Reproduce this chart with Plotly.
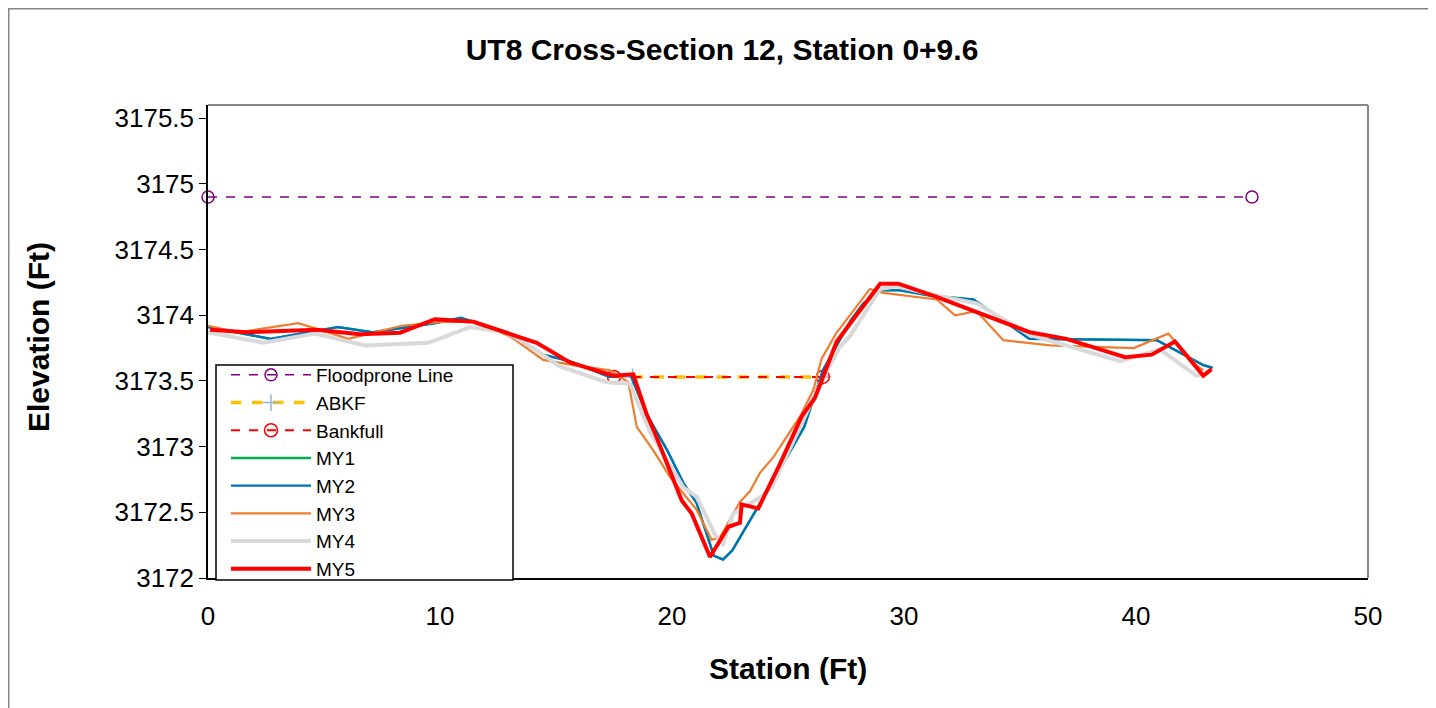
import plotly.graph_objects as go

# Reference lines
flood_x = [0, 45]
flood_y = [3174.9, 3174.9]
abkf_x = [18.3, 26.5]
abkf_y = [3173.53, 3173.53]
bank_x = [17.5, 26.5]
bank_y = [3173.53, 3173.53]

# Monitoring years
my2_x = [0.0, 2.7, 5.6, 7.1, 9.8, 10.9, 12.9, 14.45, 15.6, 17.3, 18.2, 18.9, 19.8, 20.5, 21.06,
         21.8, 22.2, 22.6, 24.2, 25.7, 26.5, 27.7, 28.25, 29.0, 29.8, 31.1, 33.0, 35.4, 40.9, 42.9, 43.3]
my2_y = [3173.91, 3173.82, 3173.91, 3173.87, 3173.94, 3173.98, 3173.87, 3173.70, 3173.65, 3173.53, 3173.55,
         3173.25, 3172.97, 3172.72, 3172.57, 3172.17, 3172.14, 3172.21, 3172.69, 3173.15, 3173.58,
         3173.96, 3174.09, 3174.19, 3174.19, 3174.15, 3174.12, 3173.82, 3173.81, 3173.62, 3173.60]

# MY1 is not visible in the picture: it lies underneath MY2
my1_x = list(my2_x)
my1_y = list(my2_y)

my3_x = [0.0, 1.3, 3.9, 6.05, 8.35, 10.07, 11.44, 13.02, 14.45, 15.75, 17.33, 18.12, 18.48, 19.2, 19.91,
         21.06, 21.71, 22.07, 22.93, 23.36, 23.79, 24.37, 25.52, 26.09, 26.45, 27.1, 27.24, 28.53, 29.11,
         31.41, 32.2, 33.13, 34.28, 36.3, 39.9, 41.39, 42.6, 42.9]
my3_y = [3173.92, 3173.87, 3173.94, 3173.82, 3173.92, 3173.95, 3173.95, 3173.84, 3173.66, 3173.62, 3173.58,
         3173.49, 3173.15, 3172.97, 3172.77, 3172.52, 3172.29, 3172.31, 3172.58, 3172.66, 3172.80, 3172.92,
         3173.23, 3173.43, 3173.67, 3173.87, 3173.90, 3174.20, 3174.17, 3174.12, 3174.00, 3174.03, 3173.81,
         3173.77, 3173.75, 3173.86, 3173.62, 3173.58]

my4_x = [0.0, 2.38, 4.61, 6.77, 9.5, 11.29, 12.87, 14.02, 15.17, 17.18, 18.19, 19.05, 19.34, 20.49, 21.06,
         21.85, 22.2, 22.64, 23.86, 24.3, 25.52, 26.38, 27.24, 27.67, 28.97, 29.68, 31.41, 33.13, 35.43,
         39.31, 41.03, 42.6, 42.9]
my4_y = [3173.87, 3173.79, 3173.86, 3173.77, 3173.79, 3173.91, 3173.87, 3173.75, 3173.61, 3173.49, 3173.48,
         3173.11, 3173.03, 3172.69, 3172.62, 3172.33, 3172.26, 3172.49, 3172.62, 3172.69, 3173.15, 3173.48,
         3173.76, 3173.84, 3174.20, 3174.22, 3174.15, 3174.09, 3173.85, 3173.65, 3173.74, 3173.54, 3173.55]

my5_x = [0.09, 1.67, 4.68, 6.55, 8.28, 9.78, 11.44, 12.87, 14.17, 15.6, 17.47, 18.33, 18.9, 19.27, 19.77,
         20.42, 20.85, 21.64, 22.43, 22.93, 23.0, 23.72, 24.66, 25.59, 26.16, 26.6, 27.1, 28.97, 29.76,
         31.4, 33.4, 35.43, 37.0, 39.53, 40.68, 41.68, 42.9, 43.26]
my5_y = [3173.89, 3173.87, 3173.89, 3173.855, 3173.867, 3173.97, 3173.95, 3173.87, 3173.79, 3173.64, 3173.54,
         3173.55, 3173.25, 3173.10, 3172.87, 3172.59, 3172.49, 3172.16, 3172.39, 3172.42, 3172.56, 3172.53,
         3172.87, 3173.23, 3173.37, 3173.58, 3173.80, 3174.24, 3174.24, 3174.14, 3174.01, 3173.87, 3173.82,
         3173.68, 3173.70, 3173.80, 3173.54, 3173.59]

x_ticks = [0, 10, 20, 30, 40, 50]
y_ticks = [3172, 3172.5, 3173, 3173.5, 3174, 3174.5, 3175, 3175.5]

FONT = "Liberation Sans, Arial, sans-serif"

fig = go.Figure()
fig.add_trace(go.Scatter(x=flood_x, y=flood_y, name="Floodprone Line", mode="lines+markers",
                         cliponaxis=False,
                         line=dict(color="#800080", width=1.5, dash="dash"),
                         marker=dict(symbol="circle-open", size=12, color="#800080", line=dict(width=1.5))))
fig.add_trace(go.Scatter(x=abkf_x, y=abkf_y, name="ABKF", mode="lines+markers",
                         line=dict(color="#ffc000", width=3.5, dash="dash"),
                         marker=dict(symbol="cross-thin-open", size=12, color="#95b3d7",
                                     line=dict(width=1.5, color="#95b3d7"))))
fig.add_trace(go.Scatter(x=bank_x, y=bank_y, name="Bankfull", mode="lines+markers",
                         line=dict(color="#ff0000", width=2, dash="dash"),
                         marker=dict(symbol="circle-open", size=13, color="#ff0000", line=dict(width=1.5))))
fig.add_trace(go.Scatter(x=my1_x, y=my1_y, name="MY1", mode="lines",
                         line=dict(color="#00b050", width=2.5)))
fig.add_trace(go.Scatter(x=my2_x, y=my2_y, name="MY2", mode="lines",
                         line=dict(color="#0070c0", width=2.2)))
fig.add_trace(go.Scatter(x=my3_x, y=my3_y, name="MY3", mode="lines",
                         line=dict(color="#ed7d31", width=2.2)))
fig.add_trace(go.Scatter(x=my4_x, y=my4_y, name="MY4", mode="lines",
                         line=dict(color="#d9d9d9", width=4)))
fig.add_trace(go.Scatter(x=my5_x, y=my5_y, name="MY5", mode="lines",
                         line=dict(color="#ff0000", width=4)))

# page has an 8px body margin: figure placed at (8, 8)
W, H = 1428, 700
L, R, T, B = 200, 68, 97, 130
pw, ph = W - L - R, H - T - B


def px_x(fx):
    return (fx - L) / pw


def px_y(fy):
    return (H - B - fy) / ph


fig.update_layout(
    width=W, height=H,
    margin=dict(l=L, r=R, t=T, b=B),
    paper_bgcolor="white", plot_bgcolor="white",
    font=dict(family=FONT, color="black"),
    title=dict(text="<b>UT8 Cross-Section 12, Station 0+9.6</b>", x=0.5, xanchor="center",
               y=1 - 41 / H, yanchor="middle", font=dict(size=30, family=FONT)),
    xaxis=dict(range=[0, 50], tickvals=x_ticks, ticks="outside", ticklen=14,
               tickcolor="rgba(0,0,0,0)", showgrid=False,
               zeroline=False, showline=True, linecolor="black", linewidth=1.5,
               tickfont=dict(size=26, family=FONT)),
    yaxis=dict(range=[3172, 3175.6], tickvals=y_ticks, ticktext=[f"{v:g}" for v in y_ticks],
               ticks="outside", ticklen=7, tickcolor="black", showgrid=False,
               zeroline=False, showline=True, linecolor="black", linewidth=1.5,
               tickfont=dict(size=26, family=FONT)),
    legend=dict(x=px_x(218), y=px_y(348), xanchor="left", yanchor="top",
                bgcolor="rgba(0,0,0,0)", borderwidth=0,
                font=dict(size=19, family=FONT), itemwidth=80, tracegroupgap=0),
    showlegend=True,
    annotations=[
        dict(text="<b>Station (Ft)</b>", xref="paper", yref="paper", x=0.5, y=px_y(660),
             xanchor="center", yanchor="middle", showarrow=False, font=dict(size=30, family=FONT)),
        dict(text="<b>Elevation (Ft)</b>", xref="paper", yref="paper", x=px_x(30), y=px_y(329),
             xanchor="center", yanchor="middle", textangle=-90, showarrow=False,
             font=dict(size=30, family=FONT)),
    ],
)

# plot-area top/right border in gray
fig.add_shape(type="line", xref="paper", yref="paper", x0=0, x1=1, y0=1, y1=1,
              line=dict(color="#868686", width=2))
fig.add_shape(type="line", xref="paper", yref="paper", x0=1, x1=1, y0=0, y1=1,
              line=dict(color="#868686", width=2))
# legend box
fig.add_shape(type="rect", xref="paper", yref="paper", layer="above",
              x0=px_x(208), x1=px_x(505), y0=px_y(572), y1=px_y(357),
              line=dict(color="black", width=1.5), fillcolor="white")
# outer chart border
fig.add_shape(type="rect", xref="paper", yref="paper",
              x0=px_x(0.75), x1=px_x(1424), y0=px_y(H + 5), y1=px_y(0.75),
              line=dict(color="#868686", width=1.5), fillcolor="rgba(0,0,0,0)")

fig.write_html("out.html")
